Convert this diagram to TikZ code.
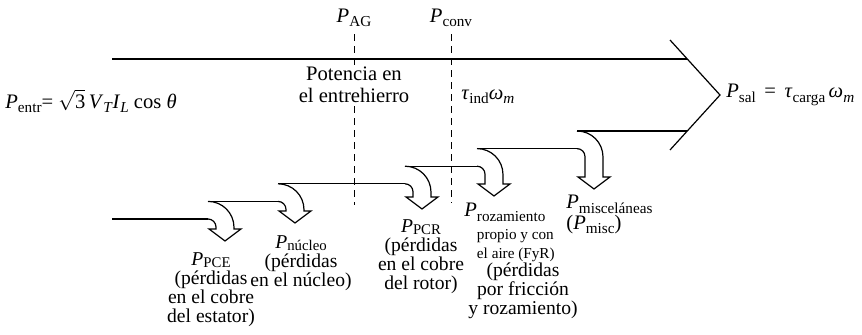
\documentclass[tikz,border=0pt]{standalone}
\usepackage{fontspec}
\setmainfont{Liberation Serif}
\newcommand{\lo}[1]{\raisebox{-0.45ex}{\fontsize{7.6}{8}\selectfont #1}}
\newcommand{\Pv}[1]{\textit{P}\lo{#1}}
\newcommand{\Pw}[1]{\textit{P}\raisebox{-0.3ex}{\fontsize{7.4}{8}\selectfont #1}}
\newcommand{\lossfont}{\fontsize{10.3}{9.3}\selectfont}
\newcommand{\capfont}{\fontsize{9.8}{9.5}\selectfont}
% loss arrow: #1 = x where the bend starts, #2 = upper level, #3 = shoulder of the head
\newcommand{\lossarrow}[3]{%
  \draw[band] (#1,#2) .. controls ({#1+14.4},#2) and ({#1+26},{#2+11.6}) .. ({#1+26},{#2+26})
    -- ({#1+26},#3) -- ({#1+33},#3) -- ({#1+17},{#3+12}) -- ({#1+1},#3) -- ({#1+8},#3)
    -- ({#1+8},{#2+25.6}) .. controls ({#1+8},{#2+21.2}) and ({#1+4.4},{#2+17.6}) .. (#1,{#2+17.6});}

\begin{document}
\begin{tikzpicture}[x=0.5pt,y=-0.5pt,
  band/.style={line width=0.6pt, line join=miter},
  cut/.style={line width=0.5pt, dash pattern=on 3.5pt off 2.5pt},
  lbl/.style={font=\lossfont, align=center, inner sep=0pt},
  lossnote/.style={lbl, font=\capfont}]
\useasboundingbox (0,0) rectangle (862,335);
% main band
\draw[band] (112,59) -- (687.3,59);
\draw[band] (670,40) -- (720,95) -- (670,150);
\draw[band] (577,131) -- (687.3,131);
\draw[band] (477,148.6) -- (577,148.6);
\draw[band] (405,166.2) -- (477,166.2);
\draw[band] (278,183.8) -- (405,183.8);
\draw[band] (208,201.4) -- (278,201.4);
\draw[band] (112,219) -- (208,219);
% losses
\lossarrow{208}{201.4}{229}
\lossarrow{278}{183.8}{211}
\lossarrow{405}{166.2}{197}
\lossarrow{477}{148.6}{184}
\lossarrow{577}{131}{177}
% cuts
\node[lbl] (pag) at (354,18) {\Pv{AG}};
\node[lbl] (pconv) at (451,18) {\Pv{conv}};
\coordinate (agfoot) at (354,205);
\coordinate (convfoot) at (451,203);
\draw[cut] (pag.south) ++(0,7) -- (agfoot);
\draw[cut] (pconv.south) ++(0,7) -- (convfoot);
\node[lbl, fill=white, inner sep=1pt, font=\fontsize{10.3}{11}\selectfont] (gap) at (354,85) {Potencia en\\el entrehierro};
% powers
\node[lbl, anchor=west] (pin) at (5,101) {\Pv{entr}= $\sqrt{\mbox{3}}$\,\textit{V}\lo{\textit{T}}\textit{I}\lo{\textit{L}} cos \textit{θ}};
\node[lbl, anchor=west] (tind) at (461,97) {\textit{τ}\lo{ind}\textit{ω}\lo{\textit{m}}};
\node[lbl, anchor=west] (pout) at (726,95) {\Pv{sal}\ \,=\ \,\textit{τ}\lo{carga}\,\textit{ω}\lo{\textit{m}}};
% captions
\node[lossnote, anchor=north] (pce) at (211,252) {\Pw{PCE}\\(pérdidas\\en el cobre\\del estator)};
\node[lossnote, anchor=north] (nuc) at (301,235) {\Pw{núcleo}\\(pérdidas\\en el núcleo)};
\node[lossnote, anchor=north] (pcr) at (421,219) {\Pw{PCR}\\(pérdidas\\en el cobre\\del rotor)};
\node[lbl, anchor=base west] (roz) at (464,217) {\textit{P}\raisebox{-0.45ex}{\fontsize{7.6}{9.2}\selectfont\begin{tabular}[t]{@{}l@{}}rozamiento\\propio y con\\el aire (FyR)\end{tabular}}};
\node[lossnote, anchor=north] (fyr) at (523,262) {(pérdidas\\por fricción\\y rozamiento)};
\node[lbl, anchor=north west, align=left] (misc) at (566,195) {\Pv{misceláneas}\\(\Pv{misc})};
\end{tikzpicture}
\end{document}
